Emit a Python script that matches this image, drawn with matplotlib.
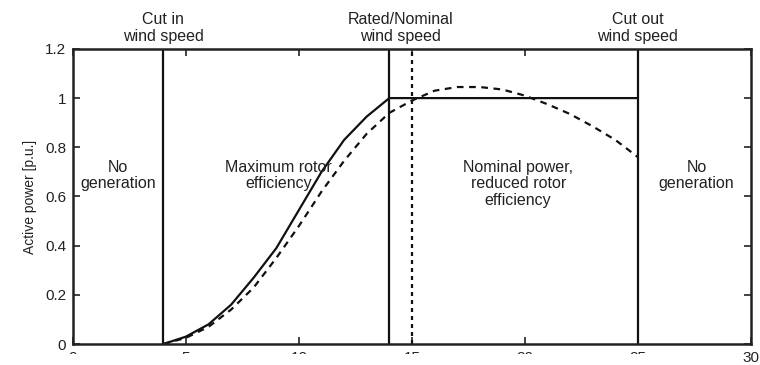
import matplotlib.pyplot as plt
from matplotlib.patches import Rectangle

plt.rcParams['font.family'] = ['Liberation Sans', 'DejaVu Sans']

# wind speed limits [m/s]
cut_in = 4
rated = 14
rated_alt = 15
cut_out = 25

# power curve at maximum rotor efficiency, then held at nominal
ws_solid = [4, 5, 6, 7, 8, 9, 10, 11, 12, 13, 14, 25]
p_solid = [0, 0.03, 0.08, 0.16, 0.27, 0.39, 0.545, 0.70, 0.83, 0.925, 1.0, 1.0]

# alternative curve without pitch limitation
ws_dash = [4, 5, 6, 7, 8, 9, 10, 11, 12, 13, 14, 15, 16, 17, 18, 19, 20, 21, 22, 23, 24, 25]
p_dash = [0, 0.025, 0.07, 0.14, 0.23, 0.35, 0.48, 0.62, 0.745, 0.855, 0.94, 0.99,
          1.03, 1.045, 1.045, 1.035, 1.01, 0.975, 0.935, 0.885, 0.83, 0.76]

xticks = [0, 5, 10, 15, 20, 25, 30]
yticks = [0, 0.2, 0.4, 0.6, 0.8, 1, 1.2]
ytick_labels = ['0', '0.2', '0.4', '0.6', '0.8', '1', '1.2']

fig = plt.figure(figsize=(7.6, 3.65), dpi=100)
ax = fig.add_axes([0.096, 0.0575, 0.892, 0.8085])

ax.plot(ws_solid, p_solid, color='#111111', lw=1.6)
ax.plot(ws_dash, p_dash, color='#111111', lw=1.6, ls=(0, (3, 2.5)))

for x in (cut_in, rated, cut_out):
    ax.axvline(x, color='#111111', lw=1.6)
ax.axvline(rated_alt, color='#111111', lw=1.6, ls=(0, (1.8, 1.8)))

ax.set_xlim(0, 30)
ax.set_ylim(0, 1.2)
ax.set_xticks(xticks)
ax.set_yticks(yticks)
ax.set_yticklabels(ytick_labels)
ax.tick_params(direction='in', length=5, width=1.2, top=True, right=True,
               labelsize=11, colors='#222222', pad=5)
for s in ax.spines.values():
    s.set_linewidth(1.8)
    s.set_color('#222222')

ax.set_ylabel('Active power [p.u.]', fontsize=10, color='#222222', labelpad=6)

txt = dict(ha='center', color='#222222', fontsize=11.5, linespacing=1.15)
ax.text(cut_in, 1.22, 'Cut in\nwind speed', va='bottom', **txt)
ax.text(14.5, 1.22, 'Rated/Nominal\nwind speed', va='bottom', **txt)
ax.text(cut_out, 1.22, 'Cut out\nwind speed', va='bottom', **txt)

ax.text(2, 0.75, 'No\ngeneration', va='top', **txt)
ax.text(9.1, 0.75, 'Maximum rotor\nefficiency', va='top', **txt)
ax.text(19.7, 0.75, 'Nominal power,\nreduced rotor\nefficiency', va='top', **txt)
ax.text(27.6, 0.75, 'No\ngeneration', va='top', **txt)

# white band hiding the lower x tick labels
fig.patches.append(Rectangle((0, 0), 0.97, 0.031, transform=fig.transFigure,
                             facecolor='white', edgecolor='none', zorder=10))

fig.savefig('out.png', dpi=100)
